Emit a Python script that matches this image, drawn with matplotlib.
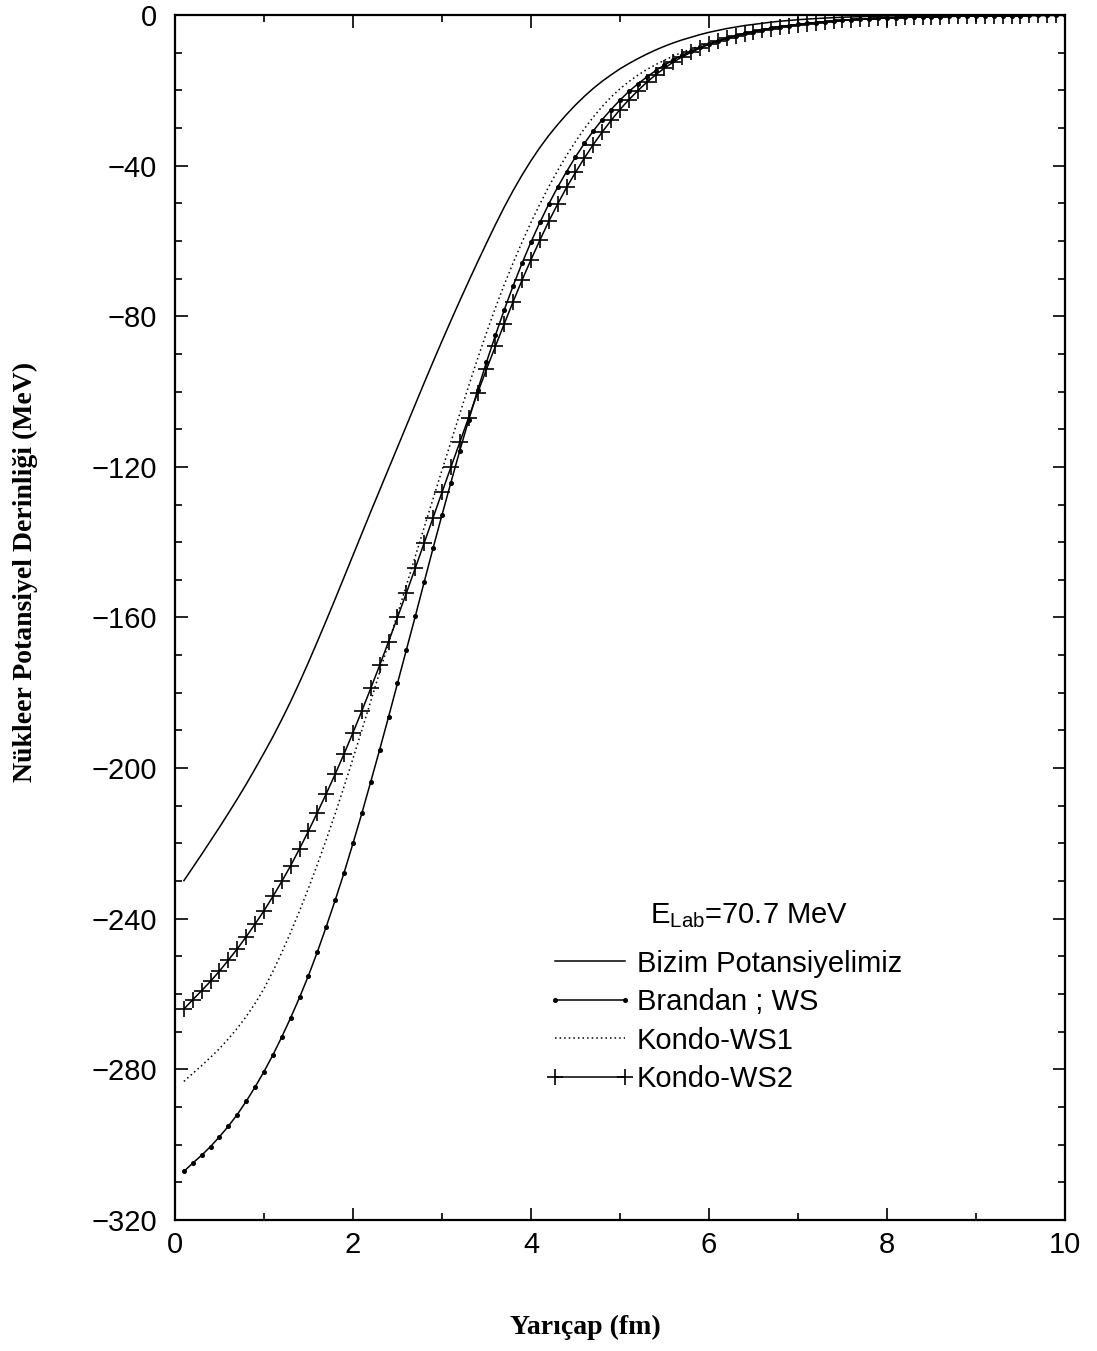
import numpy as np
import matplotlib
matplotlib.use('Agg')
import matplotlib.pyplot as plt
from matplotlib.legend_handler import HandlerLine2D

plt.rcParams['font.family'] = ['Liberation Sans', 'DejaVu Sans']
plt.rcParams['mathtext.fontset'] = 'custom'
plt.rcParams['mathtext.rm'] = 'Liberation Sans'

# yaricap (fm), 0.1 ... 10.0
r = np.round(np.arange(1, 101) * 0.1, 1)

bizim = [-229.9, -226.4, -222.9, -219.3, -215.7, -212.0, -208.2, -204.3, -200.2, -196.0,
         -191.7, -187.1, -182.3, -177.2, -171.9, -166.4, -160.8, -155.1, -149.3, -143.5,
         -137.7, -131.9, -126.2, -120.5, -114.8, -109.1, -103.4, -97.7, -92.1, -86.6,
         -81.2, -75.9, -70.7, -65.6, -60.6, -55.7, -51.0, -46.6, -42.5, -38.7,
         -35.2, -32.0, -29.1, -26.4, -23.9, -21.6, -19.5, -17.6, -15.9, -14.3,
         -12.9, -11.6, -10.4, -9.3, -8.3, -7.4, -6.6, -5.9, -5.2, -4.6,
         -4.1, -3.6, -3.2, -2.8, -2.5, -2.2, -1.9, -1.65, -1.45, -1.25,
         -1.1, -0.95, -0.82, -0.7, -0.6, -0.52, -0.45, -0.38, -0.33, -0.28,
         -0.24, -0.2, -0.17, -0.15, -0.13, -0.11, -0.09, -0.08, -0.07, -0.06,
         -0.05, -0.05, -0.04, -0.04, -0.03, -0.03, -0.03, -0.02, -0.02, -0.02]

brandan = [-307.1, -304.9, -302.8, -300.5, -297.9, -295.1, -292.0, -288.5, -284.7, -280.6,
           -276.2, -271.4, -266.3, -260.9, -255.1, -248.8, -242.1, -235.1, -227.8, -220.0,
           -212.0, -203.6, -195.1, -186.4, -177.5, -168.6, -159.7, -150.6, -141.6, -132.8,
           -124.2, -115.7, -107.6, -99.7, -92.2, -85.1, -78.3, -71.9, -65.9, -60.3,
           -55.1, -50.2, -45.7, -41.6, -37.7, -34.1, -30.8, -27.8, -25.1, -22.6,
           -20.3, -18.3, -16.5, -14.8, -13.3, -11.9, -10.7, -9.6, -8.6, -7.7,
           -6.9, -6.2, -5.5, -4.9, -4.4, -3.9, -3.5, -3.1, -2.8, -2.5,
           -2.2, -2.0, -1.8, -1.6, -1.4, -1.25, -1.1, -1.0, -0.9, -0.8,
           -0.7, -0.63, -0.56, -0.5, -0.45, -0.4, -0.36, -0.32, -0.28, -0.25,
           -0.22, -0.2, -0.18, -0.16, -0.14, -0.13, -0.11, -0.1, -0.09, -0.08]

kondo_ws1 = [-283.2, -281.1, -279.0, -276.8, -274.5, -271.9, -269.1, -266.0, -262.5, -258.6,
             -254.0, -249.0, -243.6, -237.9, -231.9, -225.6, -219.0, -212.1, -204.9, -197.5,
             -189.9, -182.2, -174.5, -166.8, -159.1, -151.5, -143.8, -136.1, -128.5, -120.9,
             -113.4, -105.9, -98.5, -91.3, -84.4, -77.8, -71.6, -65.8, -60.3, -55.1,
             -50.2, -45.6, -41.3, -37.3, -33.6, -30.2, -27.1, -24.3, -21.8, -19.6,
             -17.7, -16.0, -14.5, -13.2, -12.0, -10.9, -9.9, -9.0, -8.2, -7.5,
             -6.8, -6.1, -5.5, -4.9, -4.4, -3.9, -3.5, -3.1, -2.8, -2.5,
             -2.2, -2.0, -1.8, -1.6, -1.4, -1.25, -1.1, -1.0, -0.9, -0.8,
             -0.7, -0.63, -0.56, -0.5, -0.45, -0.4, -0.36, -0.32, -0.28, -0.25,
             -0.22, -0.2, -0.18, -0.16, -0.14, -0.13, -0.11, -0.1, -0.09, -0.08]

kondo_ws2 = [-264.0, -261.5, -259.1, -256.6, -253.9, -251.0, -248.0, -244.8, -241.4, -237.9,
             -234.1, -230.1, -225.9, -221.4, -216.7, -211.8, -206.8, -201.6, -196.2, -190.6,
             -184.8, -178.8, -172.7, -166.4, -160.0, -153.5, -146.9, -140.2, -133.5, -126.8,
             -120.1, -113.5, -106.9, -100.4, -94.1, -88.0, -82.0, -76.1, -70.4, -65.0,
             -59.8, -54.8, -50.2, -45.8, -41.8, -38.0, -34.4, -31.1, -28.0, -25.1,
             -22.5, -20.1, -17.9, -15.9, -14.1, -12.5, -11.1, -9.9, -8.8, -7.8,
             -7.0, -6.2, -5.6, -5.0, -4.5, -4.0, -3.6, -3.2, -2.9, -2.6,
             -2.3, -2.05, -1.85, -1.65, -1.45, -1.3, -1.15, -1.05, -0.93, -0.83,
             -0.73, -0.65, -0.58, -0.52, -0.46, -0.41, -0.37, -0.33, -0.29, -0.26,
             -0.23, -0.21, -0.19, -0.17, -0.15, -0.13, -0.12, -0.1, -0.09, -0.08]

labels = ['Bizim Potansiyelimiz', 'Brandan ; WS', 'Kondo-WS1', 'Kondo-WS2']

fig = plt.figure(figsize=(10.97, 13.51), dpi=100)
ax = fig.add_axes([0.1595, 0.0970, 0.8113, 0.8919])

ax.plot(r, bizim, color='black', linewidth=1.1, label=labels[0])
ax.plot(r, brandan, color='black', linewidth=1.1, marker='o', markersize=2.6,
        label=labels[1])
ax.plot(r, kondo_ws1, color='black', linewidth=1.1, linestyle=(0, (1, 2)),
        label=labels[2])
ax.plot(r, kondo_ws2, color='black', linewidth=1.1, marker='+', markersize=11,
        markeredgewidth=1.2, label=labels[3])

ax.set_xlim(0, 10)
ax.set_ylim(-320, 0)
ax.set_xticks(np.arange(0, 11, 2))
ax.set_xticks(np.arange(1, 10, 2), minor=True)
ax.set_yticks(np.arange(-320, 1, 40))
ax.set_yticks(np.arange(-310, 0, 10), minor=True)
ax.tick_params(which='both', direction='in', top=True, right=True, width=1.2,
               labelsize=21)
ax.tick_params(which='major', length=9)
ax.tick_params(which='minor', length=5)
ax.tick_params(axis='y', pad=13)
ax.tick_params(axis='x', pad=8)
for s in ax.spines.values():
    s.set_linewidth(1.6)

ax.set_xlabel('Yarıçap (fm)', family='Liberation Serif', fontweight='bold',
              fontsize=20, va='center')
ax.xaxis.set_label_coords(0.4607, -0.0896)
ax.set_ylabel('Nükleer Potansiyel Derinliği (MeV)', family='Liberation Serif',
              fontweight='bold', fontsize=20, va='center')
ax.yaxis.set_label_coords(-0.168, 0.5378)

ax.text(0.5337, 0.2465, r'E$_{\mathrm{Lab}}$=70.7 MeV', transform=ax.transAxes,
        fontsize=21, ha='left', va='baseline')
ax.legend(loc='upper left', bbox_to_anchor=(0.427, 0.2243), frameon=False,
          fontsize=21, numpoints=2, handlelength=2.4, handletextpad=0.4,
          labelspacing=0.36, borderpad=0, borderaxespad=0,
          handler_map={matplotlib.lines.Line2D: HandlerLine2D(marker_pad=0)})

fig.savefig('out.png', dpi=100, facecolor='white')
